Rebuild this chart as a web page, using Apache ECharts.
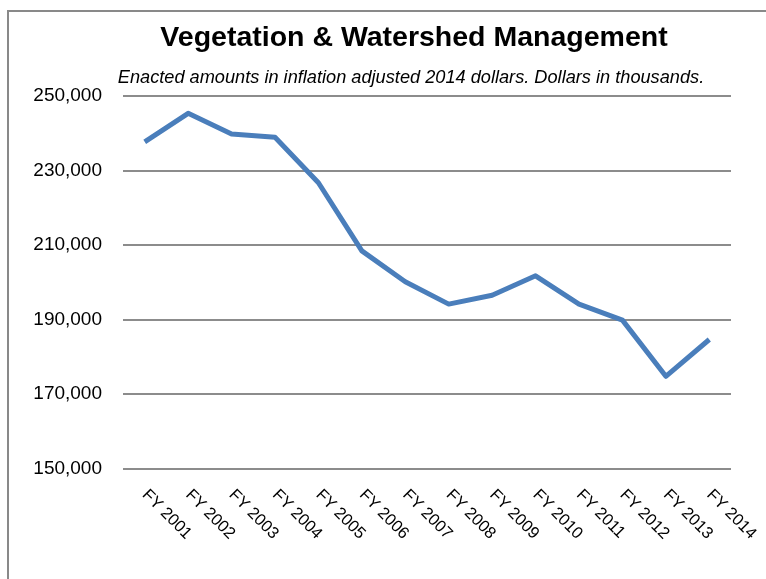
<!DOCTYPE html>
<html>
<head>
<meta charset="utf-8">
<script src="https://cdn.jsdelivr.net/npm/echarts@6/dist/echarts.min.js"></script>
<style>html,body{margin:0;padding:0;background:#fff}#c{width:766px;height:579px}</style>
</head>
<body>
<div id="c"></div>
<script>
const categories = ["FY 2001","FY 2002","FY 2003","FY 2004","FY 2005","FY 2006","FY 2007","FY 2008","FY 2009","FY 2010","FY 2011","FY 2012","FY 2013","FY 2014"];
const values = [237700, 245350, 239800, 238900, 226700, 208400, 200100, 194100, 196500, 201700, 194100, 189800, 174700, 184600];
const yMin = 150000, yMax = 250000, yStep = 20000;
const titleText = "Vegetation & Watershed Management";
const subtitleText = "Enacted amounts in inflation adjusted 2014 dollars. Dollars in thousands.";

const chart = echarts.init(document.getElementById('c'));
chart.setOption({
  animation: false,
  backgroundColor: '#fff',
  title: [
    { text: titleText, left: 409, top: 19, textAlign: 'center',
      textStyle: { fontFamily: 'Liberation Sans', fontWeight: 'bold', fontSize: 28.5, color: '#000' } },
    { text: subtitleText, left: 406, top: 64, textAlign: 'center',
      textStyle: { fontFamily: 'Liberation Sans', fontStyle: 'italic', fontWeight: 'normal', fontSize: 18.2, color: '#000' } }
  ],
  graphic: [
    { type: 'polyline', shape: { points: [[8, 579], [8, 11], [766, 11]] },
      style: { stroke: '#898989', lineWidth: 2, fill: null } }
  ],
  grid: { left: 123, right: 35, top: 96, bottom: 110.7 },
  xAxis: {
    type: 'category', data: categories, boundaryGap: true,
    axisLine: { show: false }, axisTick: { show: false },
    axisLabel: { rotate: -45, fontFamily: 'Liberation Sans', fontSize: 16.5, color: '#000', margin: 24, interval: 0 }
  },
  yAxis: {
    type: 'value', min: yMin, max: yMax, interval: yStep,
    axisLine: { show: false }, axisTick: { show: false },
    axisLabel: { fontFamily: 'Liberation Sans', fontSize: 19, color: '#000', margin: 21,
      formatter: v => v.toLocaleString('en-US') },
    splitLine: { lineStyle: { color: '#8c8c8c', width: 2 } }
  },
  series: [{
    type: 'line', data: values, symbol: 'none',
    lineStyle: { color: '#4a7ebb', width: 5, join: 'round' }
  }]
});
</script>
</body>
</html>
